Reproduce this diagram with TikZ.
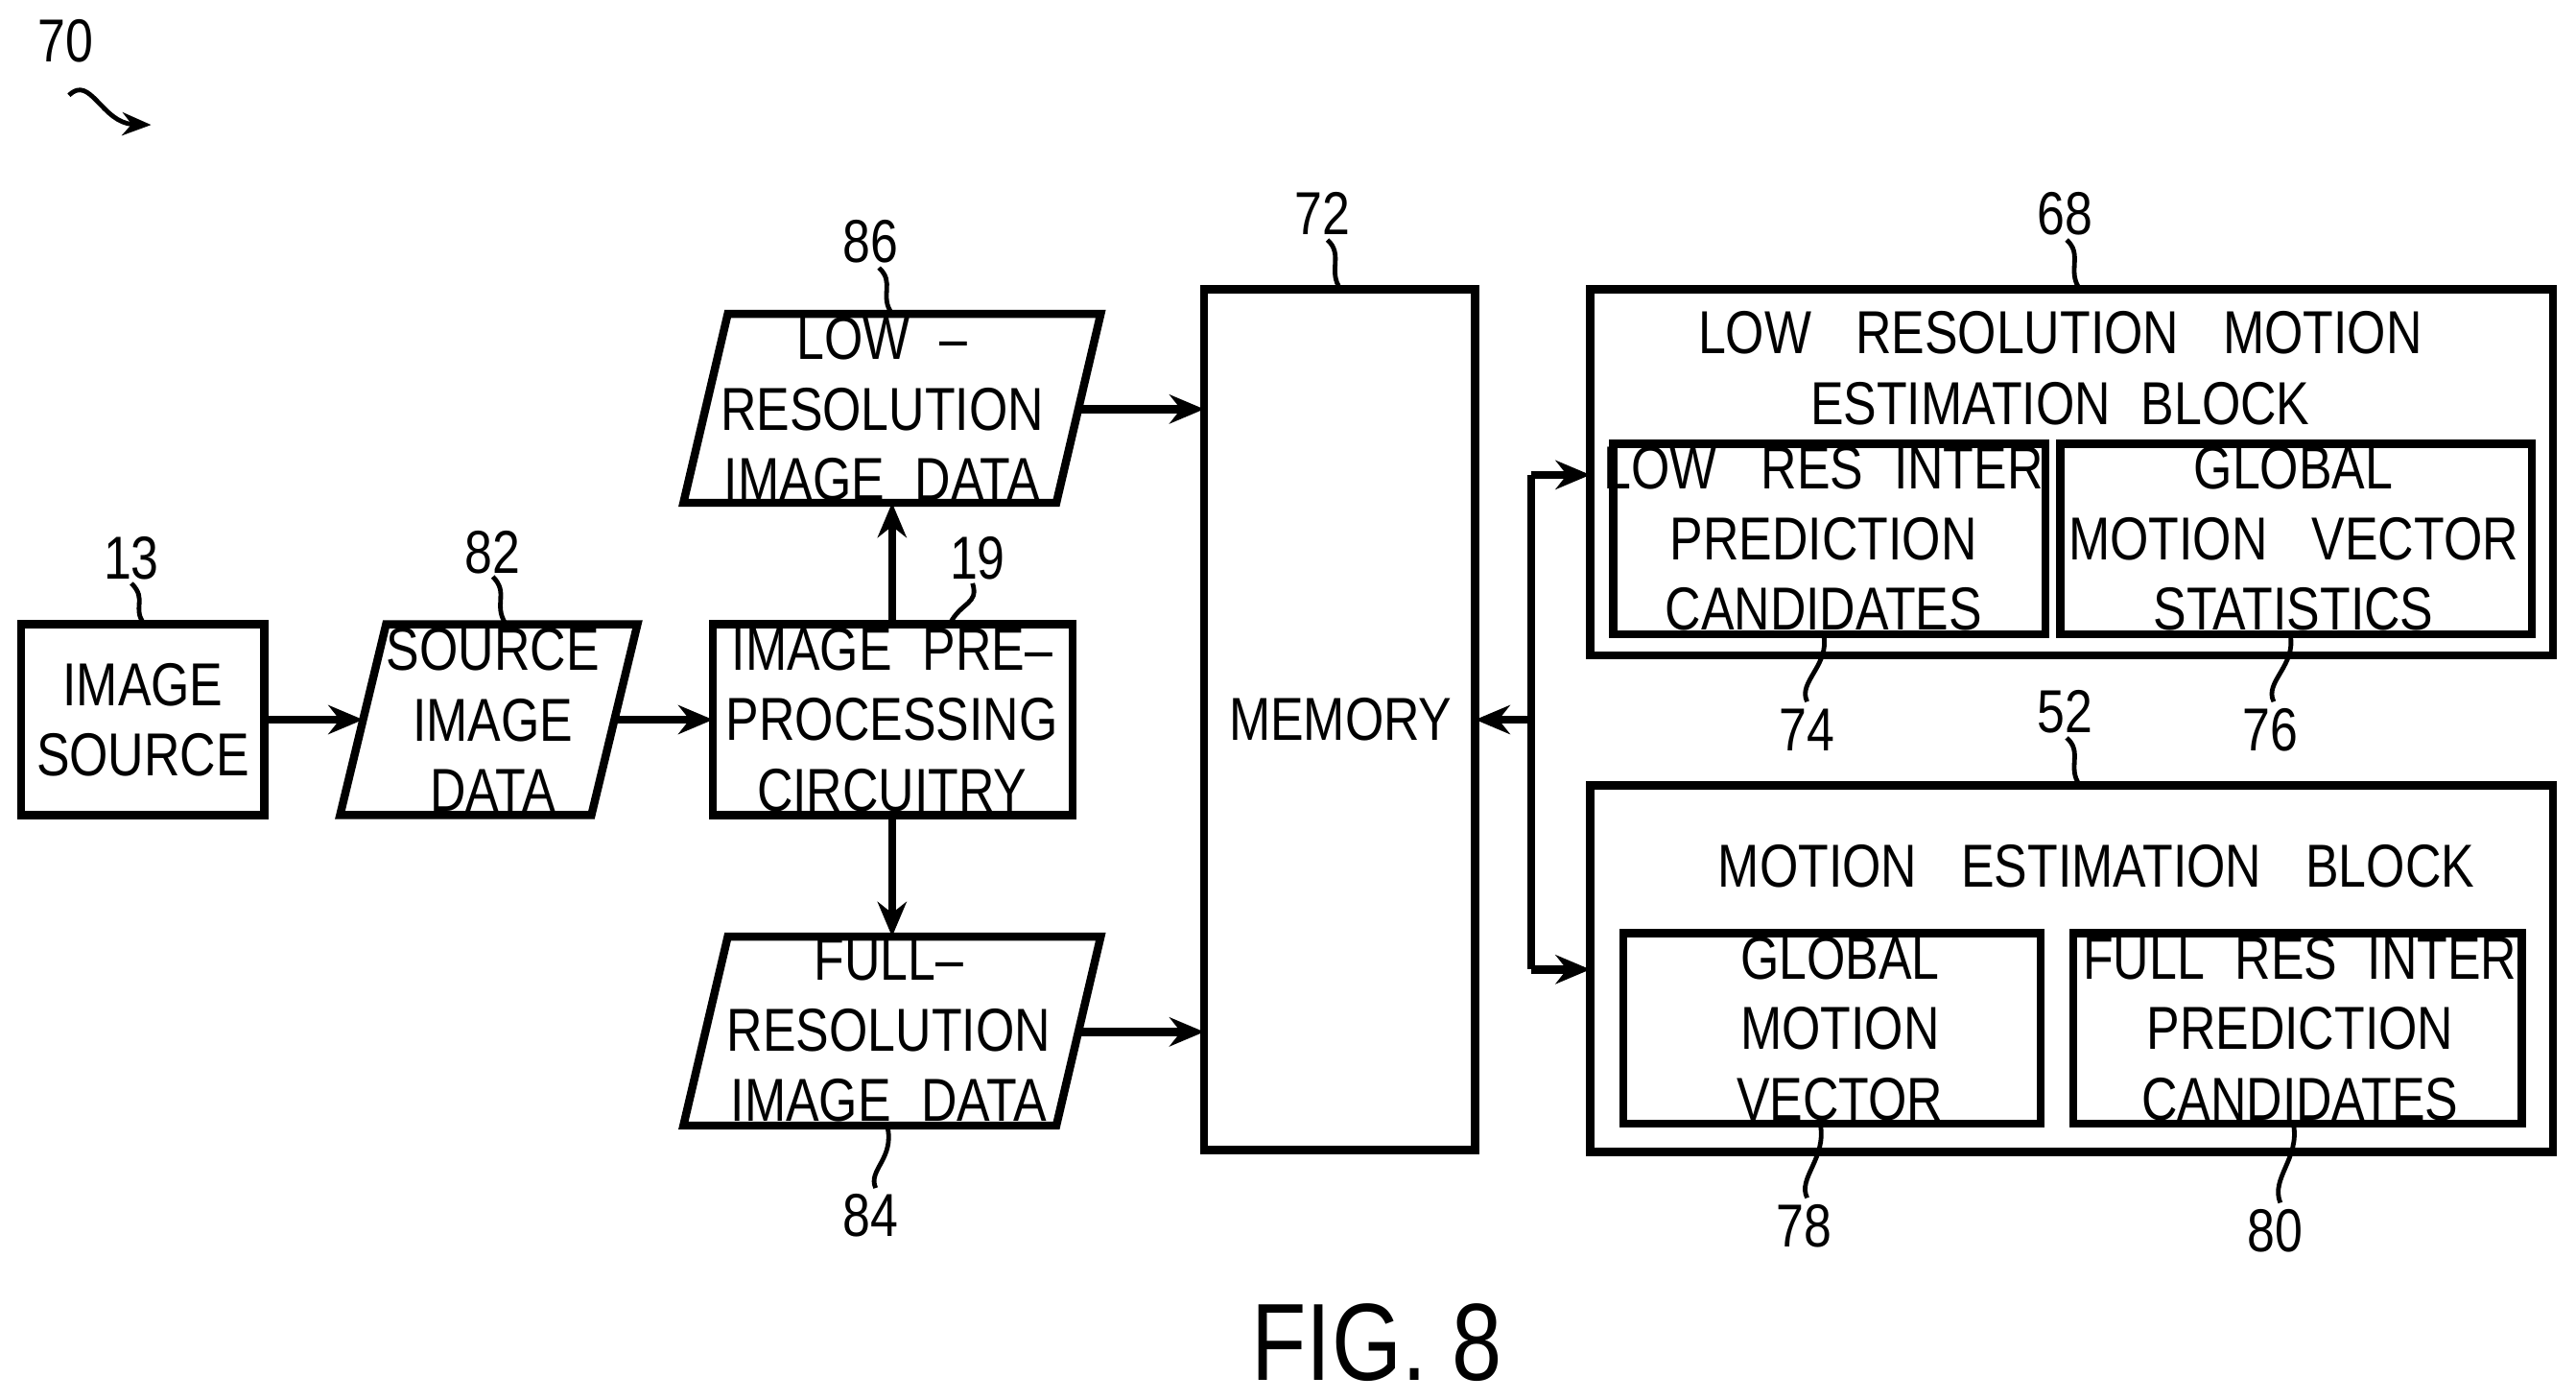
\documentclass[tikz,border=0pt]{standalone}
\usepackage{fontspec}
\setmainfont{Liberation Sans}[FakeStretch=0.82]
\usetikzlibrary{arrows.meta}
\begin{document}
\begin{tikzpicture}[x=0.01cm,y=-0.01cm,
  box/.style={draw,line width=1.4pt},
  txt/.style={align=center,font=\fontsize{10.5pt}{12.2pt}\selectfont},
  lbl/.style={font=\fontsize{10.5pt}{12pt}\selectfont},
  arr/.style={line width=1.4pt,-{Stealth[length=6pt,width=5pt]}},
  lead/.style={line width=0.8pt}]
\useasboundingbox (0,0) rectangle (1568,851.5);
% boxes
\draw[box] (13,380) rectangle (161,496);
\node[txt] (src) at (87,438) {IMAGE\\SOURCE};
\coordinate (srcE) at (161,438);
\draw[box] (235,380)--(388,380)--(360,496)--(207,496)--cycle;
\node[txt] (sid) at (300,438) {SOURCE\\IMAGE\\DATA};
\coordinate (sidW) at (221,438); \coordinate (sidE) at (374,438);
\draw[box] (434,380) rectangle (653,496);
\node[txt] (pre) at (543,438) {IMAGE\enspace PRE--\\PROCESSING\\CIRCUITRY};
\coordinate (preW) at (434,438); \coordinate (preN) at (543,380); \coordinate (preS) at (543,496);
\draw[box] (443,191)--(670,191)--(643,306)--(416,306)--cycle;
\node[txt] (low) at (537,249) {LOW\enspace --\\RESOLUTION\\IMAGE\enspace DATA};
\coordinate (lowS) at (543,306); \coordinate (lowE) at (657,249);
\draw[box] (443,570)--(670,570)--(643,685)--(416,685)--cycle;
\node[txt] (full) at (541,627) {FULL--\\RESOLUTION\\IMAGE\enspace DATA};
\coordinate (fullN) at (543,570); \coordinate (fullE) at (657,628);
\draw[box] (733,176) rectangle (898,700);
\node[txt] (mem) at (816,438) {MEMORY};
\draw[box] (968,176) rectangle (1554,399);
\node[txt] (lrme) at (1254,224) {LOW\enspace\ RESOLUTION\enspace\ MOTION\\ESTIMATION\enspace BLOCK};
\draw[box] (982,270) rectangle (1245,386);
\node[txt] (c74) at (1110,328) {LOW\enspace\ RES\enspace INTER\\PREDICTION\\CANDIDATES};
\draw[box] (1254,270) rectangle (1541,386);
\node[txt] (c76) at (1396,328) {GLOBAL\\MOTION\enspace\ VECTOR\\STATISTICS};
\draw[box] (968,478) rectangle (1554,701);
\node[txt] (me) at (1276,527) {MOTION\enspace\ ESTIMATION\enspace\ BLOCK};
\draw[box] (988,568) rectangle (1242,684);
\node[txt] (c78) at (1120,626) {GLOBAL\\MOTION\\VECTOR};
\draw[box] (1262,568) rectangle (1535,684);
\node[txt] (c80) at (1400,626) {FULL\enspace RES\enspace INTER\\PREDICTION\\CANDIDATES};
% arrows
\draw[arr] (srcE)--(sidW);
\draw[arr] (sidE)--(preW);
\draw[arr] (preN)--(lowS);
\draw[arr] (preS)--(fullN);
\draw[arr] (lowE)--(733,249);
\draw[arr] (fullE)--(733,628);
\draw[line width=1.4pt] (932,289)--(932,590);
\draw[arr] (932,438)--(898,438);
\draw[arr] (932,289)--(968,289);
\draw[arr] (932,590)--(968,590);
% labels with leaders
\newcommand{\leadr}[4]{\node[lbl] (#1) at (#2) {#1};\draw[lead] (#3) .. controls +(6,7) and +(-6,-7) .. (#4);}
\node[lbl] (l13) at (80,340) {13}; \draw[lead] (80,355) .. controls (90,365) and (80,370) .. (88,380);
\node[lbl] (l82) at (300,336) {82}; \draw[lead] (300,351) .. controls (310,361) and (300,368) .. (308,380);
\node[lbl] (l19) at (595,340) {19}; \draw[lead] (592,355) .. controls (596,368) and (585,366) .. (578,380);
\node[lbl] (l86) at (530,147) {86}; \draw[lead] (535,163) .. controls (545,172) and (535,180) .. (543,191);
\node[lbl] (l84) at (530,740) {84}; \draw[lead] (533,723) .. controls (528,712) and (545,705) .. (540,685);
\node[lbl] (l72) at (805,130) {72}; \draw[lead] (808,146) .. controls (818,155) and (808,165) .. (816,176);
\node[lbl] (l68) at (1257,130) {68}; \draw[lead] (1258,146) .. controls (1268,155) and (1258,165) .. (1266,176);
\node[lbl] (l52) at (1257,433) {52}; \draw[lead] (1258,449) .. controls (1268,458) and (1258,467) .. (1266,478);
\node[lbl] (l74) at (1100,444) {74}; \draw[lead] (1100,427) .. controls (1094,415) and (1114,405) .. (1110,386);
\node[lbl] (l76) at (1382,444) {76}; \draw[lead] (1384,427) .. controls (1378,415) and (1398,405) .. (1394,386);
\node[lbl] (l78) at (1098,746) {78}; \draw[lead] (1100,729) .. controls (1094,717) and (1112,705) .. (1108,684);
\node[lbl] (l80) at (1385,749) {80}; \draw[lead] (1388,732) .. controls (1382,717) and (1400,705) .. (1396,684);
\node[lbl] (l70) at (40,25) {70};
\coordinate (e70) at (92,76);
\draw[lead,-{Stealth[length=5pt,width=4pt]}] (42,58) .. controls (55,45) and (62,75) .. (e70);
\node[font=\fontsize{19pt}{22pt}\selectfont] (fig) at (838,817) {FIG. 8};
\end{tikzpicture}
\end{document}
